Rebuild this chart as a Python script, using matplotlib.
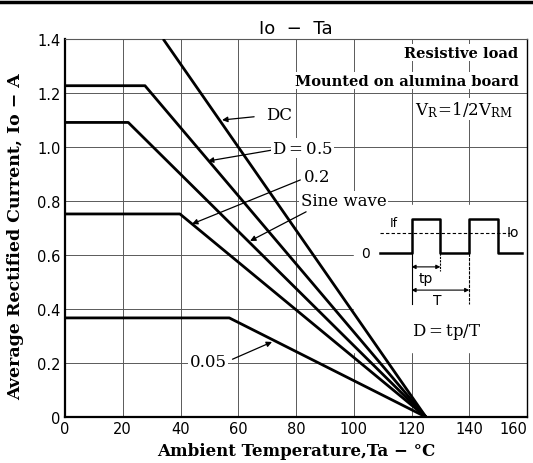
import matplotlib
matplotlib.use("Agg")
import matplotlib.pyplot as plt
from matplotlib.lines import Line2D

plt.rcParams['mathtext.fontset'] = 'dejavuserif'

# ---- data ----
x_ticks = [0, 20, 40, 60, 80, 100, 120, 140, 160]
y_ticks = [0, 0.2, 0.4, 0.6, 0.8, 1.0, 1.2, 1.4]
y_tick_labels = ["0", "0.2", "0.4", "0.6", "0.8", "1.0", "1.2", "1.4"]

dc_t = [34, 125]
dc_i = [1.40, 0.0]
d05_t = [0, 27.7, 125]
d05_i = [1.227, 1.227, 0.0]
sine_t = [0, 21.9, 125]
sine_i = [1.091, 1.091, 0.0]
d02_t = [0, 39.8, 125]
d02_i = [0.752, 0.752, 0.0]
d005_t = [0, 56.9, 125]
d005_i = [0.367, 0.367, 0.0]

# curve labels: (text, text position, arrow tip)
labels = ["DC", "D$\\mathregular{=}$0.5", "0.2", "Sine wave", "0.05"]
label_pos = [(69.6, 1.119), (82.3, 0.996), (87.3, 0.889), (96.5, 0.800), (49.5, 0.204)]
label_tip = [(54.4, 1.100), (49.5, 0.948), (44.0, 0.715), (64.1, 0.652), (71.7, 0.278)]
label_ha = ["left", "center", "center", "center", "center"]
label_tail = [(65.5, 1.112), (72.5, 0.990), (81.5, 0.878), (83.5, 0.760), (58.0, 0.214)]

# inset waveform (temperature / current units on the chart)
wave_t = [109.1, 120, 120, 130, 130, 140, 140, 150, 150, 158.3]
wave_i = [0.607, 0.607, 0.733, 0.733, 0.607, 0.607, 0.733, 0.733, 0.607, 0.607]
io_level = 0.681

fig = plt.figure(figsize=(5.33, 4.64), dpi=100)
ax = fig.add_axes([65/533, 1-418/464, (527-65)/533, (418-40)/464])

ax.set_xlim(0, 160)
ax.set_ylim(0, 1.4)
ax.set_xticks(x_ticks)
ax.set_xticklabels([str(v) for v in x_ticks], fontsize=10.5)
ax.get_xticklabels()[-1].set_horizontalalignment('right')
ax.set_yticks(y_ticks)
ax.set_yticklabels(y_tick_labels, fontsize=10.5)
ax.tick_params(length=0, pad=3)
ax.grid(True, color='0.35', lw=0.7)
ax.set_axisbelow(True)
for s in ['left', 'bottom']:
    ax.spines[s].set_linewidth(1.6)
ax.spines['right'].set_linewidth(1.0)
ax.spines['top'].set_linewidth(0.8)
ax.spines['top'].set_color('0.35')

for t, i in [(dc_t, dc_i), (d05_t, d05_i), (sine_t, sine_i), (d02_t, d02_i), (d005_t, d005_i)]:
    ax.plot(t, i, color='black', lw=2.0, solid_capstyle='butt', zorder=3, clip_on=True)

serif = 'DejaVu Serif'
for txt, pos, tip, ha, tail in zip(labels, label_pos, label_tip, label_ha, label_tail):
    ax.text(pos[0], pos[1], txt, ha=ha, va='center', fontsize=12, family=serif,
            bbox=dict(facecolor='white', edgecolor='none', pad=1), zorder=5)
    ax.annotate("", xy=tip, xytext=tail,
                arrowprops=dict(arrowstyle='-|>', lw=0.9, color='black',
                                mutation_scale=8, shrinkA=0, shrinkB=0), zorder=4)

# top-right notes
ax.text(157, 1.35, "Resistive load", ha='right', va='center', fontsize=10.5,
        family=serif, weight='bold', bbox=dict(facecolor='white', edgecolor='none', pad=1), zorder=5)
ax.text(157, 1.245, "Mounted on alumina board", ha='right', va='center', fontsize=10.5,
        family=serif, weight='bold', bbox=dict(facecolor='white', edgecolor='none', pad=1), zorder=5)
ax.text(155, 1.14, r"$\mathregular{V_R\!=\!1/2V_{RM}}$", ha='right', va='center', fontsize=12,
        family=serif, bbox=dict(facecolor='white', edgecolor='none', pad=1), zorder=5)

# inset waveform background
ax.fill_between([100, 159.5], [0.24, 0.24], [0.785, 0.785], color='white', zorder=2.5)
ax.plot(wave_t, wave_i, color='black', lw=1.8, zorder=4)
ax.plot([wave_t[0], 154], [io_level, io_level], color='black', lw=0.8, ls=(0, (3, 2)), zorder=4)
ax.text(104.2, 0.607, "0", ha='center', va='center', fontsize=10, zorder=5)
ax.text(113.8, 0.72, "If", ha='center', va='center', fontsize=9, zorder=5)
ax.text(155.2, 0.685, "Io", ha='center', va='center', fontsize=10, zorder=5)
ax.plot([120, 120], [0.607, 0.42], color='black', lw=0.8, zorder=4)
ax.plot([130, 130], [0.607, 0.54], color='black', lw=0.8, ls=(0, (2, 1)), zorder=4)
ax.plot([140, 140], [0.607, 0.42], color='black', lw=0.8, ls=(0, (3, 1)), zorder=4)
ax.annotate("", xy=(120, 0.556), xytext=(130, 0.556),
            arrowprops=dict(arrowstyle='<|-|>', lw=0.8, color='black', mutation_scale=6,
                            shrinkA=0, shrinkB=0), zorder=4)
ax.annotate("", xy=(120, 0.470), xytext=(140, 0.470),
            arrowprops=dict(arrowstyle='<|-|>', lw=0.8, color='black', mutation_scale=6,
                            shrinkA=0, shrinkB=0), zorder=4)
ax.text(125, 0.515, "tp", ha='center', va='center', fontsize=10, zorder=5)
ax.text(129, 0.435, "T", ha='center', va='center', fontsize=10, zorder=5)
ax.text(132.3, 0.32, "D$\\mathregular{=}$tp/T", ha='center', va='center', fontsize=12,
        family=serif, zorder=5)

ax.set_title("Io  −  Ta", fontsize=13, pad=4)
ax.set_xlabel("Ambient Temperature,Ta − °C", fontsize=12, family=serif, weight='bold', labelpad=4)
ax.set_ylabel("Average Rectified Current, Io − A", fontsize=12.5, family=serif, weight='bold',
              labelpad=5)
ax.yaxis.set_label_coords(-0.088, 0.479)

fig.add_artist(Line2D([0, 1], [0.993, 0.993], color='black', lw=2.5, transform=fig.transFigure))

fig.savefig("out.png", dpi=100)
